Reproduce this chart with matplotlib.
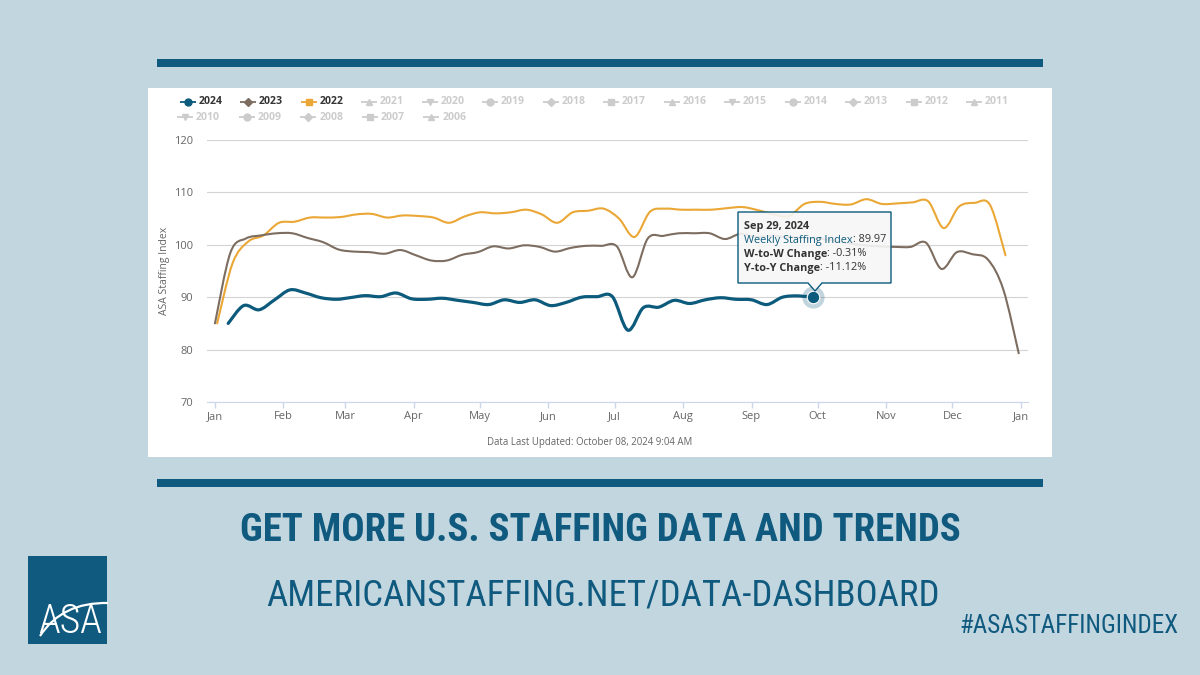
# -*- coding: utf-8 -*-
# ASA Staffing Index - weekly index 2022-2024, dashboard promo card

import datetime as dt

import numpy as np
import pandas as pd
import matplotlib
matplotlib.use("Agg")
import matplotlib.pyplot as plt
from matplotlib.path import Path
from matplotlib.patches import PathPatch, Rectangle, Polygon

# ---------------------------------------------------------------
# data (weekly values)
# ---------------------------------------------------------------
start_2024 = "2024-01-07"
index_2024 = [
    85.0, 88.4, 87.6, 89.5, 91.4, 90.8, 89.9, 89.6, 89.9, 90.3, 90.1, 90.8, 89.7,
    89.6, 89.8, 89.4, 89.0, 88.6, 89.5, 89.0, 89.5, 88.4, 89.0, 90.0, 90.1, 90.1,
    83.7, 88.0, 88.1, 89.4, 88.8, 89.5, 89.9, 89.6, 89.5, 88.6, 90.0, 90.25, 89.97,
]

start_2023 = "2023-01-01"
index_2023 = [
    85.0, 98.5, 101.2, 101.8, 102.2, 102.2, 101.3, 100.5, 99.1, 98.7, 98.6, 98.3, 99.0,
    98.0, 97.0, 97.0, 98.1, 98.6, 99.7, 99.3, 99.9, 99.6, 98.7, 99.4, 99.8, 99.8,
    99.7, 93.8, 101.2, 101.7, 102.2, 102.2, 102.2, 101.1, 102.1, 101.5, 101.7, 101.5, 101.3,
    101.2, 100.8, 100.3, 99.9, 99.7, 99.6, 99.6, 100.4, 95.4, 98.6, 98.2, 97.2, 91.5, 79.3,
]

start_2022 = "2022-01-02"
index_2022 = [
    85.0, 96.5, 100.6, 101.8, 104.2, 104.4, 105.2, 105.2, 105.3, 105.8, 105.9, 105.2, 105.6,
    105.5, 105.2, 104.2, 105.4, 106.2, 106.0, 106.2, 106.7, 105.8, 104.2, 106.2, 106.5, 106.9,
    105.0, 101.5, 106.3, 106.9, 106.7, 106.7, 106.7, 107.0, 107.2, 106.6, 105.8, 105.5, 107.8,
    108.2, 107.8, 107.7, 108.7, 107.8, 107.9, 108.1, 108.3, 103.2, 107.3, 108.0, 107.6, 98.0,
]

legend_years = ["2024", "2023", "2022", "2021", "2020", "2019", "2018", "2017", "2016",
                "2015", "2014", "2013", "2012", "2011", "2010", "2009", "2008", "2007", "2006"]
month_labels = ["Jan", "Feb", "Mar", "Apr", "May", "Jun", "Jul",
                "Aug", "Sep", "Oct", "Nov", "Dec", "Jan"]
y_ticks = [70, 80, 90, 100, 110, 120]

tip_date = "Sep 29, 2024"
tip_index = "89.97"
tip_wow = "-0.31%"
tip_yoy = "-11.12%"
updated_text = "Data Last Updated: October 08, 2024 9:04 AM"

# ---------------------------------------------------------------
# styles
# ---------------------------------------------------------------
BG = "#c2d6e0"
NAVY = "#0f5a7e"
C2024 = "#0d5b7c"
C2023 = "#7d6d60"
C2022 = "#eaa735"
INACTIVE = "#cccccc"
GREY_TXT = "#666666"
DARK_TXT = "#333333"

CHART_FONT = ["Open Sans", "DejaVu Sans"]
NARROW_FONT = ["Liberation Sans Narrow", "DejaVu Sans Condensed", "Roboto Condensed", "DejaVu Sans"]

plt.rcParams["font.family"] = CHART_FONT


def day_index(start, n):
    """weekly dates put on a common (non-leap) year, as day offsets from Jan 1"""
    dates = pd.date_range(start, periods=n, freq="7D")
    return np.array([(dt.date(2023, d.month, d.day) - dt.date(2023, 1, 1)).days for d in dates])


def spline_path(x, y):
    # smooth line through the points (like highcharts 'spline')
    x = np.asarray(x, float)
    y = np.asarray(y, float)
    n = len(x)
    verts = [(x[0], y[0])]
    codes = [Path.MOVETO]
    for i in range(n - 1):
        x0, y0 = (x[i - 1], y[i - 1]) if i > 0 else (x[i], y[i])
        x3, y3 = (x[i + 2], y[i + 2]) if i + 2 < n else (x[i + 1], y[i + 1])
        c1 = (x[i] + (x[i + 1] - x0) / 6.0, y[i] + (y[i + 1] - y0) / 6.0)
        c2 = (x[i + 1] - (x3 - x[i]) / 6.0, y[i + 1] - (y3 - y[i]) / 6.0)
        verts += [c1, c2, (x[i + 1], y[i + 1])]
        codes += [Path.CURVE4] * 3
    return Path(verts, codes)


fig = plt.figure(figsize=(12, 6.75), dpi=100)
fig.patch.set_facecolor(BG)
renderer = fig.canvas.get_renderer()

# background layer in pixel coordinates
bg = fig.add_axes([0, 0, 1, 1], zorder=0)
bg.set_xlim(0, 1200)
bg.set_ylim(675, 0)
bg.axis("off")
bg.add_patch(Rectangle((148, 88), 904, 369, facecolor="white", edgecolor="none"))
bg.add_patch(Rectangle((157, 59), 886, 8, facecolor=NAVY, edgecolor="none"))
bg.add_patch(Rectangle((157, 479), 886, 8, facecolor=NAVY, edgecolor="none"))

# ---------------------------------------------------------------
# chart
# ---------------------------------------------------------------
ax = fig.add_axes([207 / 1200, 1 - 402 / 675, 821 / 1200, 262 / 675], zorder=1)
ax.set_facecolor("none")

series = [
    (start_2022, index_2022, C2022, 1.5),
    (start_2023, index_2023, C2023, 1.5),
    (start_2024, index_2024, C2024, 2.3),
]
for start, vals, color, lw in series:
    xs = day_index(start, len(vals))
    ax.add_patch(PathPatch(spline_path(xs, vals), facecolor="none", edgecolor=color,
                           lw=lw, capstyle="round", joinstyle="round", zorder=3))
    ax.plot(xs, vals, color="none")

# hovered point
x24 = day_index(start_2024, len(index_2024))
ax.plot(x24[-1], index_2024[-1], "o", ms=16, color=C2024, alpha=0.25, mec="none", zorder=5)
ax.plot(x24[-1], index_2024[-1], "o", ms=9, color=C2024, mec="white", mew=0.8, zorder=6)

month_days = list((pd.date_range("2023-01-01", "2023-12-01", freq="MS").dayofyear - 1)) + [365]
ax.set_xlim(-3.6, 368.2)
ax.set_ylim(70, 120)
ax.set_xticks(month_days)
ax.set_xticklabels(month_labels)
ax.set_yticks(y_ticks)
ax.tick_params(axis="x", length=4.3, width=1, color="#ccd6eb", labelcolor=GREY_TXT,
               labelsize=8, pad=2)
ax.tick_params(axis="y", length=0, labelcolor=GREY_TXT, labelsize=8, pad=10)
ax.yaxis.grid(True, color="#d3d3d3", lw=0.8)
ax.set_axisbelow(True)
for side in ["left", "right", "top"]:
    ax.spines[side].set_visible(False)
ax.spines["bottom"].set_color("#ccd6eb")
ax.set_ylabel("ASA Staffing Index", color=GREY_TXT, fontsize=7.5)
ax.yaxis.set_label_coords((170 - 207) / 821, 0.5)

bg.text(590, 443, updated_text, color=GREY_TXT, fontsize=6.9, ha="center", va="center")

# ---------------------------------------------------------------
# legend (only 2022-2024 shown, older years greyed out)
# ---------------------------------------------------------------
markers = ["o", "D", "s", "^", "v"]
active = {"2024": C2024, "2023": C2023, "2022": C2022}
for i, year in enumerate(legend_years):
    if i < 14:
        cx, cy = 187.5 + 60.5 * i, 102
    else:
        cx, cy = 185 + 61.6 * (i - 14), 117
    color = active.get(year, INACTIVE)
    mk = markers[i % 5]
    ms = 4.2 if mk in ("D", "s") else 5
    bg.plot([cx - 8, cx + 8], [cy, cy], color=color, lw=1.3, solid_capstyle="butt")
    bg.plot(cx, cy, marker=mk, ms=ms, color=color, mec=color)
    bg.text(cx + 11, cy, year, fontsize=7.6, fontweight="bold",
            color=DARK_TXT if year in active else INACTIVE, ha="left", va="center")

# ---------------------------------------------------------------
# tooltip
# ---------------------------------------------------------------
fg = fig.add_axes([0, 0, 1, 1], zorder=2)
fg.set_xlim(0, 1200)
fg.set_ylim(675, 0)
fg.axis("off")
fg.patch.set_alpha(0)

tip = [(738, 212), (891, 212), (891, 283), (822, 283), (815, 291), (808, 283), (738, 283)]
fg.add_patch(Polygon(tip, closed=True, facecolor="#f7f7f7", alpha=0.9, edgecolor="none"))
fg.add_patch(Polygon(tip, closed=True, facecolor="none", edgecolor=C2024, lw=1))


def two_part(x, y, first, second, w1, c1):
    t = fg.text(x, y, first, fontsize=7.8, fontweight=w1, color=c1, ha="left", va="center")
    bb = t.get_window_extent(renderer=renderer)
    fg.text(x + bb.width, y, second, fontsize=7.8, color=DARK_TXT, ha="left", va="center")


fg.text(744, 226, tip_date, fontsize=7.8, fontweight="bold", color=DARK_TXT, ha="left", va="center")
two_part(744, 240, "Weekly Staffing Index", ": " + tip_index, "normal", C2024)
two_part(744, 254, "W-to-W Change", ": " + tip_wow, "bold", DARK_TXT)
two_part(744, 268, "Y-to-Y Change", ": " + tip_yoy, "bold", DARK_TXT)

# ---------------------------------------------------------------
# footer text + logo
# ---------------------------------------------------------------
def fit_text(axo, x, y, s, width, **kw):
    t = axo.text(x, y, s, fontsize=30, **kw)
    bb = t.get_window_extent(renderer=renderer)
    t.set_fontsize(30 * width / bb.width)
    return t


fit_text(bg, 600, 541, "GET MORE U.S. STAFFING DATA AND TRENDS", 720, family=NARROW_FONT,
         fontweight="bold", color=NAVY, ha="center", va="baseline")
fit_text(bg, 603, 606, "AMERICANSTAFFING.NET/DATA-DASHBOARD", 671, family=NARROW_FONT,
         color=NAVY, ha="center", va="baseline")
fit_text(bg, 1069, 633, "#ASASTAFFINGINDEX", 220, family=NARROW_FONT,
         color=NAVY, ha="center", va="baseline")

bg.add_patch(Rectangle((28, 556), 79, 88, facecolor=NAVY, edgecolor="none"))
fit_text(bg, 70, 633, "ASA", 64, family=NARROW_FONT, fontweight="light", color="white",
         ha="center", va="baseline")
swoosh = Path([(40, 636), (62, 602), (108, 603)], [Path.MOVETO, Path.CURVE3, Path.CURVE3])
bg.add_patch(PathPatch(swoosh, facecolor="none", edgecolor="white", lw=1.6))

fig.savefig("out.png", dpi=100, facecolor=BG)
